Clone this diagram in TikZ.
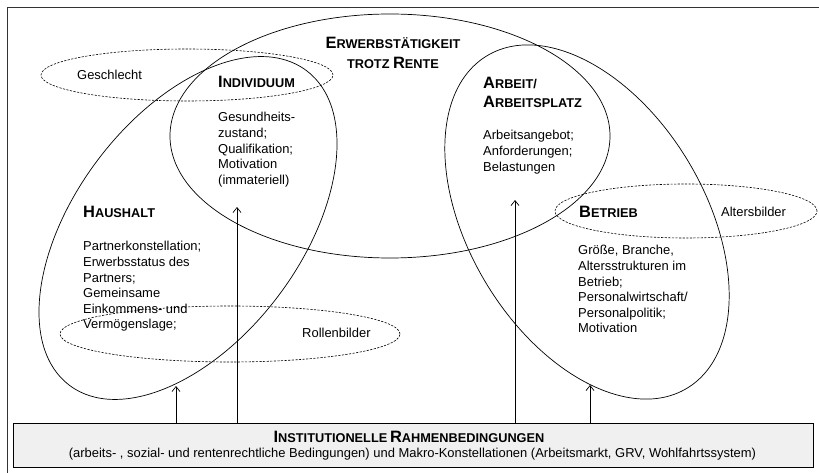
\documentclass[tikz,border=0pt]{standalone}
\usepackage{fontspec}
\setmainfont{Liberation Sans}
\usetikzlibrary{arrows.meta}
\newcommand\scA[2]{{\fontsize{16.5}{18}\selectfont\bfseries #1}{\fontsize{12.8}{18}\selectfont\bfseries #2}}
\begin{document}
\begin{tikzpicture}[x=1bp,y=-1bp,
  solidell/.style={draw=black, line width=0.7bp},
  dashell/.style={draw=black, line width=0.6bp, dash pattern=on 2.2bp off 1.4bp},
  body/.style={anchor=north west, align=left, inner sep=0, font=\fontsize{13}{15.6}\selectfont},
  lbl/.style={anchor=base west, inner sep=0, font=\fontsize{13}{15.6}\selectfont},
  head/.style={anchor=base west, inner sep=0},
  arr/.style={-{Straight Barb[length=5bp,width=8bp]}, line width=0.7bp}]
\useasboundingbox (0,0) rectangle (819,473);
\draw[line width=0.8bp, draw=black!80] (819,7) -- (7,7) -- (7,473);
% solid ellipses
\draw[solidell] (390,136) ellipse [x radius=220bp, y radius=122bp];
\draw[solidell, rotate around={53:(188,228)}] (188,228) ellipse [x radius=197bp, y radius=113bp];
\draw[solidell, rotate around={-59:(587,222)}] (587,222) ellipse [x radius=194bp, y radius=118bp];
% dashed ellipses
\draw[dashell] (187,75) ellipse [x radius=146bp, y radius=26bp];
\draw[dashell] (230,334) ellipse [x radius=170bp, y radius=28bp];
\draw[dashell] (686,211) ellipse [x radius=131bp, y radius=27bp];
% title
\node[anchor=base, inner sep=0] (title1) at (393,48.5) {\scA{E}{RWERBSTÄTIGKEIT}};
\node[anchor=base, inner sep=0] (title2) at (393,68.5) {\scA{}{TROTZ }\scA{R}{ENTE}};
% labels
\node[lbl] (gesch) at (77,80) {Geschlecht};
\node[lbl] (rollen) at (302,338) {Rollenbilder};
\node[lbl] (alters) at (721,217) {Altersbilder};
\node[head] (hh) at (83,217.5) {\scA{H}{AUSHALT}};
\node[body] (hhtext) at (83,241.4) {Partnerkonstellation;\\Erwerbsstatus des\\Partners;\\Gemeinsame\\Einkommens- und\\Vermögenslage;};
\node[head] (ind) at (218,87.5) {\scA{I}{NDIVIDUUM}};
\node[body] (indtext) at (218,112.4) {Gesundheits-\\zustand;\\Qualifikation;\\Motivation\\(immateriell)};
\node[head] (arb1) at (483,88.5) {\scA{A}{RBEIT/}};
\node[head] (arb2) at (483,107.5) {\scA{A}{RBEITSPLATZ}};
\node[body] (arbtext) at (483,130.4) {Arbeitsangebot;\\Anforderungen;\\Belastungen};
\node[head] (betr) at (579,218) {\scA{B}{ETRIEB}};
\node[body] (betrtext) at (578,245.4) {Größe, Branche,\\Altersstrukturen im\\Betrieb;\\Personalwirtschaft/\\Personalpolitik;\\Motivation};
% box
\node[draw=black, line width=0.8bp, fill=black!6, minimum width=800bp, minimum height=44bp, inner sep=0] (box) at (413,445) {};
\node[anchor=base, inner sep=0] (boxhead) at (409,442) {\scA{I}{NSTITUTIONELLE} \scA{R}{AHMENBEDINGUNGEN}};
\node[anchor=base, inner sep=0, font=\fontsize{13}{15}\selectfont] (boxtext) at (412.5,457) {(arbeits- , sozial- und rentenrechtliche Bedingungen) und Makro-Konstellationen (Arbeitsmarkt, GRV, Wohlfahrtssystem)};
% arrows
\coordinate (t1) at (176,386);
\coordinate (t2) at (237,207);
\coordinate (t3) at (515,200);
\coordinate (t4) at (590,385);
\draw[arr] (t1 |- box.north) -- (t1);
\draw[arr] (t2 |- box.north) -- (t2);
\draw[arr] (t3 |- box.north) -- (t3);
\draw[arr] (t4 |- box.north) -- (t4);
\end{tikzpicture}
\end{document}
